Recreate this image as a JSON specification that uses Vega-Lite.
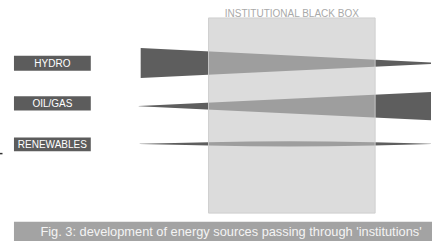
{
  "$schema": "https://vega.github.io/schema/vega-lite/v6.json",
  "width": 432,
  "height": 241,
  "autosize": {"type": "fit", "contains": "padding"},
  "padding": 0,
  "background": "white",
  "config": {"view": {"stroke": null}},
  "datasets": {
    "wedges": [
      {"source": "HYDRO", "x": 141, "top": 48.3, "bottom": 78.3},
      {"source": "HYDRO", "x": 432, "top": 62.8, "bottom": 64.3},
      {"source": "OIL/GAS", "x": 139, "top": 106.4, "bottom": 106.8},
      {"source": "OIL/GAS", "x": 432, "top": 92.3, "bottom": 120.7},
      {"source": "RENEWABLES", "x": 140, "top": 144.4, "bottom": 144.6},
      {"source": "RENEWABLES", "x": 175, "top": 143.6, "bottom": 145.4},
      {"source": "RENEWABLES", "x": 209, "top": 142.8, "bottom": 146.2},
      {"source": "RENEWABLES", "x": 250, "top": 142.2, "bottom": 146.8},
      {"source": "RENEWABLES", "x": 290, "top": 141.8, "bottom": 147.2},
      {"source": "RENEWABLES", "x": 330, "top": 142.1, "bottom": 146.9},
      {"source": "RENEWABLES", "x": 375, "top": 142.8, "bottom": 146.2},
      {"source": "RENEWABLES", "x": 405, "top": 143.6, "bottom": 145.4},
      {"source": "RENEWABLES", "x": 432, "top": 144.4, "bottom": 144.6}
    ],
    "box": [{"x1": 209, "x2": 376, "y1": 18, "y2": 214}],
    "labels": [
      {"label": "HYDRO", "x1": 14, "x2": 91, "y1": 56, "y2": 71},
      {"label": "OIL/GAS", "x1": 14, "x2": 91, "y1": 96.7, "y2": 111},
      {"label": "RENEWABLES", "x1": 14, "x2": 91, "y1": 138, "y2": 152}
    ],
    "title": [{"text": "INSTITUTIONAL BLACK BOX", "x": 292.5, "y": 16.7}],
    "captionbar": [{"x1": 14, "x2": 433, "y1": 222.7, "y2": 242}],
    "caption": [{"text": "Fig. 3: development of energy sources passing through 'institutions'", "x": 40.5, "y": 236.6}],
    "dot": [{"x1": 0, "x2": 2.5, "y1": 153.5, "y2": 155}]
  },
  "layer": [
    {
      "data": {"name": "wedges"},
      "mark": {"type": "area", "color": "#5e5e5e", "interpolate": "linear"},
      "encoding": {
        "x": {"field": "x", "type": "quantitative", "scale": {"domain": [0, 432], "nice": false, "zero": false}, "axis": null},
        "y": {"field": "top", "type": "quantitative", "scale": {"domain": [0, 241], "nice": false, "zero": false, "reverse": true}, "axis": null},
        "y2": {"field": "bottom"},
        "detail": {"field": "source", "type": "nominal"}
      }
    },
    {
      "data": {"name": "box"},
      "mark": {"type": "rect", "fill": "#c7c7c7", "fillOpacity": 0.62, "stroke": "#cccccc", "strokeWidth": 1, "strokeOpacity": 0.9},
      "encoding": {
        "x": {"field": "x1", "type": "quantitative", "scale": {"domain": [0, 432], "nice": false, "zero": false}, "axis": null},
        "x2": {"field": "x2"},
        "y": {"field": "y1", "type": "quantitative", "scale": {"domain": [0, 241], "nice": false, "zero": false, "reverse": true}, "axis": null},
        "y2": {"field": "y2"}
      }
    },
    {
      "data": {"name": "labels"},
      "mark": {"type": "rect", "fill": "#5c5c5c"},
      "encoding": {
        "x": {"field": "x1", "type": "quantitative", "scale": {"domain": [0, 432], "nice": false, "zero": false}, "axis": null},
        "x2": {"field": "x2"},
        "y": {"field": "y1", "type": "quantitative", "scale": {"domain": [0, 241], "nice": false, "zero": false, "reverse": true}, "axis": null},
        "y2": {"field": "y2"}
      }
    },
    {
      "data": {"name": "labels"},
      "transform": [
        {"calculate": "(datum.x1 + datum.x2) / 2", "as": "cx"},
        {"calculate": "(datum.y1 + datum.y2) / 2", "as": "cy"}
      ],
      "mark": {"type": "text", "color": "#ffffff", "font": "Liberation Sans", "fontSize": 10, "align": "center", "baseline": "middle", "dy": 0.5},
      "encoding": {
        "x": {"field": "cx", "type": "quantitative", "scale": {"domain": [0, 432], "nice": false, "zero": false}, "axis": null},
        "y": {"field": "cy", "type": "quantitative", "scale": {"domain": [0, 241], "nice": false, "zero": false, "reverse": true}, "axis": null},
        "text": {"field": "label", "type": "nominal"}
      }
    },
    {
      "data": {"name": "title"},
      "mark": {"type": "text", "color": "#a9a9a9", "font": "Liberation Sans", "fontSize": 10, "align": "center", "baseline": "alphabetic"},
      "encoding": {
        "x": {"field": "x", "type": "quantitative", "scale": {"domain": [0, 432], "nice": false, "zero": false}, "axis": null},
        "y": {"field": "y", "type": "quantitative", "scale": {"domain": [0, 241], "nice": false, "zero": false, "reverse": true}, "axis": null},
        "text": {"field": "text", "type": "nominal"}
      }
    },
    {
      "data": {"name": "captionbar"},
      "mark": {"type": "rect", "fill": "#a3a3a3"},
      "encoding": {
        "x": {"field": "x1", "type": "quantitative", "scale": {"domain": [0, 432], "nice": false, "zero": false}, "axis": null},
        "x2": {"field": "x2"},
        "y": {"field": "y1", "type": "quantitative", "scale": {"domain": [0, 241], "nice": false, "zero": false, "reverse": true}, "axis": null},
        "y2": {"field": "y2"}
      }
    },
    {
      "data": {"name": "caption"},
      "mark": {"type": "text", "color": "#f4f4f4", "font": "Liberation Sans", "fontSize": 12.8, "align": "left", "baseline": "alphabetic"},
      "encoding": {
        "x": {"field": "x", "type": "quantitative", "scale": {"domain": [0, 432], "nice": false, "zero": false}, "axis": null},
        "y": {"field": "y", "type": "quantitative", "scale": {"domain": [0, 241], "nice": false, "zero": false, "reverse": true}, "axis": null},
        "text": {"field": "text", "type": "nominal"}
      }
    },
    {
      "data": {"name": "dot"},
      "mark": {"type": "rect", "fill": "#333333"},
      "encoding": {
        "x": {"field": "x1", "type": "quantitative", "scale": {"domain": [0, 432], "nice": false, "zero": false}, "axis": null},
        "x2": {"field": "x2"},
        "y": {"field": "y1", "type": "quantitative", "scale": {"domain": [0, 241], "nice": false, "zero": false, "reverse": true}, "axis": null},
        "y2": {"field": "y2"}
      }
    }
  ]
}
